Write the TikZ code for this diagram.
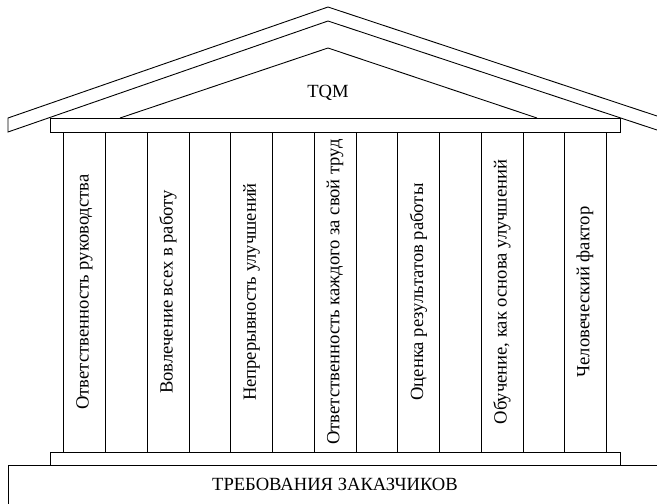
\documentclass[tikz,border=0pt]{standalone}
\usepackage{fontspec}
\setmainfont{Liberation Serif}
\begin{document}
\begin{tikzpicture}[x=1pt, y=-1pt, line width=0.9pt,
    every node/.style={font=\fontsize{18.6}{22}\selectfont},
    pillar/.style={draw, rotate=90, minimum width=320pt, minimum height=42pt, inner sep=0pt}]
    \useasboundingbox (0,0) rectangle (657,504);
    % Roof
    \draw (657,116) -- (328,7) -- (8,118) -- (8,132) -- (328,21) -- (657,130);
    \draw (120,118) -- (328,48) -- (537,118);
    \node (tqm) at (328,93) {TQM};
    \draw (50,118) rectangle (620,132);

    % Pillars
    \node[pillar] (p1) at (84.5,292) {Ответственность руководства};
    \node[pillar] (p2) at (168,292) {Вовлечение всех в работу};
    \node[pillar] (p3) at (251.5,292) {Непрерывность улучшений};
    \node[pillar] (p4) at (335,292) {Ответственность каждого за свой труд};
    \node[pillar] (p5) at (418.5,292) {Оценка результатов работы};
    \node[pillar] (p6) at (502,292) {Обучение, как основа улучшений};
    \node[pillar] (p7) at (585,292) {Человеческий фактор};

    % Foundation
    \draw (50,452) rectangle (620,465);
    \draw (8,504) -- (8,465) -- (657,465);
    \node (req) at (335,484) {ТРЕБОВАНИЯ ЗАКАЗЧИКОВ};
\end{tikzpicture}
\end{document}
